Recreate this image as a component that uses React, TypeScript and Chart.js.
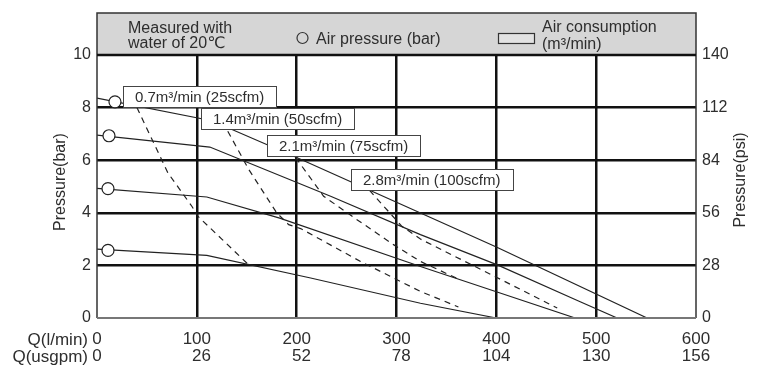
import React, { useEffect, useRef } from 'react';
import { Chart, registerables } from 'chart.js';

Chart.register(...registerables);

// ---- axis tick labels ----
const flowTicksLpm = [0, 100, 200, 300, 400, 500, 600];
const flowTicksUsgpm = [0, 26, 52, 78, 104, 130, 156];
const pressureTicksBar = [0, 2, 4, 6, 8, 10];
const pressureTicksPsi = [0, 28, 56, 84, 112, 140];

// ---- air pressure curves (solid), flow l/min vs pressure bar ----
const p8Flow = [0, 115, 200, 400, 551];
const p8Bar = [8.36, 7.5, 6.1, 2.7, 0];
const p7Flow = [0, 113, 234, 324, 401, 484, 521];
const p7Bar = [6.95, 6.5, 4.63, 3.17, 2.02, 0.62, 0];
const p5Flow = [0, 110, 183, 324, 400, 479];
const p5Bar = [4.93, 4.6, 3.8, 1.96, 1.0, 0];
const p3Flow = [0, 110, 214, 324, 400];
const p3Bar = [2.62, 2.38, 1.52, 0.56, 0];

// air pressure markers (circles)
const markerFlow = [18, 12, 11, 11];
const markerBar = [8.22, 6.93, 4.92, 2.57];

// ---- air consumption curves (dashed) ----
const a07Flow = [40, 71, 95, 101, 125, 152];
const a07Bar = [8.0, 5.52, 4.25, 3.87, 3.0, 2.02];
const a14Flow = [131, 152, 180, 192, 204, 264, 324, 362];
const a14Bar = [7.1, 5.65, 4.0, 3.55, 3.4, 2.15, 1.01, 0.42];
const a21Flow = [199, 227, 260, 297, 324, 361];
const a21Bar = [6.1, 4.63, 3.75, 2.79, 2.15, 1.5];
const a28Flow = [273, 305, 324, 400, 461];
const a28Bar = [4.85, 3.5, 3.0, 1.55, 0.38];

const airLabels = ['0.7m³/min (25scfm)', '1.4m³/min (50scfm)', '2.1m³/min (75scfm)', '2.8m³/min (100scfm)'];
// label anchors (top-left corner of each box, in data units)
const airLabelAnchors = [
  { flow: 26, bar: 8.82 },
  { flow: 104, bar: 8.0 },
  { flow: 170, bar: 6.96 },
  { flow: 254, bar: 5.65 },
];

const FONT = '"Liberation Sans", "DejaVu Sans", Arial, sans-serif';
const TEXT = '#2e2e2e';
const LINE = '#222';

function pts(xs: number[], ys: number[]) {
  return xs.map((x, i) => ({ x, y: ys[i] }));
}

const overlay = {
  id: 'overlay',
  afterDatasetsDraw(chart: any) {
    const { ctx, scales } = chart;
    const x = scales.x;
    const y = scales.y;
    ctx.save();
    ctx.font = `15px ${FONT}`;
    airLabels.forEach((t, i) => {
      const left = Math.round(x.getPixelForValue(airLabelAnchors[i].flow));
      const top = Math.round(y.getPixelForValue(airLabelAnchors[i].bar));
      const w = Math.round(ctx.measureText(t).width + 24);
      const h = 21;
      ctx.fillStyle = '#fff';
      ctx.fillRect(left, top, w, h);
      ctx.strokeStyle = '#444';
      ctx.lineWidth = 1;
      ctx.strokeRect(left + 0.5, top + 0.5, w, h);
      ctx.fillStyle = TEXT;
      ctx.textBaseline = 'middle';
      ctx.textAlign = 'left';
      ctx.fillText(t, left + 12, top + h / 2 + 1);
    });
    ctx.restore();
  },
  afterDraw(chart: any) {
    const { ctx, chartArea: a } = chart;
    ctx.save();
    // frame
    ctx.strokeStyle = '#333';
    ctx.lineWidth = 1.5;
    ctx.beginPath();
    ctx.moveTo(a.left, a.top);
    ctx.lineTo(a.left, a.bottom);
    ctx.moveTo(a.right, a.top);
    ctx.lineTo(a.right, a.bottom);
    ctx.stroke();
    ctx.strokeStyle = '#777';
    ctx.lineWidth = 2;
    ctx.beginPath();
    ctx.moveTo(a.left, a.bottom);
    ctx.lineTo(a.right, a.bottom);
    ctx.stroke();

    // header band
    const hTop = 13;
    ctx.fillStyle = '#d6d6d6';
    ctx.fillRect(a.left, hTop, a.right - a.left, a.top - hTop);
    ctx.strokeStyle = '#333';
    ctx.lineWidth = 1.5;
    ctx.beginPath();
    ctx.moveTo(a.left, a.top);
    ctx.lineTo(a.left, hTop);
    ctx.lineTo(a.right, hTop);
    ctx.lineTo(a.right, a.top);
    ctx.stroke();
    ctx.strokeStyle = '#111';
    ctx.lineWidth = 2.5;
    ctx.beginPath();
    ctx.moveTo(a.left, a.top);
    ctx.lineTo(a.right, a.top);
    ctx.stroke();

    ctx.fillStyle = TEXT;
    ctx.font = `16px ${FONT}`;
    ctx.textAlign = 'left';
    ctx.textBaseline = 'alphabetic';
    ctx.fillText('Measured with', 128, 33);
    ctx.fillText('water of 20℃', 128, 47.5);
    ctx.fillText('Air pressure (bar)', 316, 43.5);
    ctx.fillText('Air consumption', 542, 32);
    ctx.fillText('(m³/min)', 542, 49);
    ctx.strokeStyle = '#333';
    ctx.lineWidth = 1.2;
    ctx.beginPath();
    ctx.arc(302.5, 38, 5.5, 0, Math.PI * 2);
    ctx.stroke();
    ctx.fillStyle = '#e2e2e2';
    ctx.fillRect(498.5, 33.5, 36, 10);
    ctx.strokeRect(498.5, 33.5, 36, 10);

    // axis titles
    ctx.fillStyle = TEXT;
    ctx.font = `16px ${FONT}`;
    ctx.textAlign = 'center';
    ctx.textBaseline = 'middle';
    ctx.save();
    ctx.translate(61, 182);
    ctx.rotate(-Math.PI / 2);
    ctx.fillText('Pressure(bar)', 0, 0);
    ctx.restore();
    ctx.save();
    ctx.translate(741, 180);
    ctx.rotate(-Math.PI / 2);
    ctx.fillText('Pressure(psi)', 0, 0);
    ctx.restore();

    // x unit prefixes
    ctx.font = `17px ${FONT}`;
    ctx.textAlign = 'right';
    ctx.fillText('Q(l/min)', 88, 340);
    ctx.fillText('Q(usgpm)', 88, 357);
    ctx.restore();
  },
};

export default function App() {
  const ref = useRef<HTMLCanvasElement>(null);
  useEffect(() => {
    if (!ref.current) return;
    const solid = (xs: number[], ys: number[]) => ({
      data: pts(xs, ys),
      borderColor: LINE,
      borderWidth: 1.2,
      pointRadius: 0,
      tension: 0,
      fill: false,
    });
    const dashed = (xs: number[], ys: number[]) => ({
      data: pts(xs, ys),
      borderColor: LINE,
      borderWidth: 1.2,
      borderDash: [6, 5],
      pointRadius: 0,
      tension: 0,
      fill: false,
    });
    const chart = new Chart(ref.current, {
      type: 'line',
      data: {
        datasets: [
          {
            data: pts(markerFlow, markerBar),
            showLine: false,
            pointRadius: 6,
            pointBackgroundColor: '#fff',
            pointBorderColor: LINE,
            pointBorderWidth: 1.2,
            borderColor: LINE,
          },
          solid(p8Flow, p8Bar),
          solid(p7Flow, p7Bar),
          solid(p5Flow, p5Bar),
          solid(p3Flow, p3Bar),
          dashed(a07Flow, a07Bar),
          dashed(a14Flow, a14Bar),
          dashed(a21Flow, a21Bar),
          dashed(a28Flow, a28Bar),
        ] as any,
      },
      options: {
        responsive: false,
        animation: false,
        events: [],
        layout: { padding: { top: 55, left: 0, right: 0, bottom: 0 } },
        plugins: { legend: { display: false }, tooltip: { enabled: false }, title: { display: false } },
        scales: {
          x: {
            type: 'linear',
            min: 0,
            max: 600,
            afterBuildTicks: (s: any) => {
              s.ticks = flowTicksLpm.map((v) => ({ value: v }));
            },
            afterFit: (s: any) => {
              s.height = 62;
            },
            grid: {
              drawTicks: false,
              lineWidth: 2.5,
              color: (c: any) => (c.tick && (c.tick.value === 0 || c.tick.value === 600) ? 'rgba(0,0,0,0)' : '#111'),
            },
            border: { display: false },
            ticks: {
              padding: 13,
              color: TEXT,
              maxRotation: 0,
              autoSkip: false,
              font: { family: FONT, size: 17, lineHeight: 1.0 },
              callback: (v: any, i: number) => {
                const a = String(flowTicksLpm[i]);
                let b = String(flowTicksUsgpm[i]);
                while (b.length < a.length) b = '\u2007' + b;
                return [a, b];
              },
            },
          },
          y: {
            type: 'linear',
            position: 'left',
            min: 0,
            max: 10,
            afterBuildTicks: (s: any) => {
              s.ticks = pressureTicksBar.map((v) => ({ value: v }));
            },
            afterFit: (s: any) => {
              s.width = 97;
            },
            grid: {
              drawTicks: false,
              lineWidth: 2.5,
              color: (c: any) => (c.tick && (c.tick.value === 0 || c.tick.value === 10) ? 'rgba(0,0,0,0)' : '#111'),
            },
            border: { display: false },
            ticks: {
              padding: 6,
              color: TEXT,
              font: { family: FONT, size: 16 },
              callback: (v: any) => String(v),
            },
          },
          y2: {
            type: 'linear',
            position: 'right',
            min: 0,
            max: 140,
            afterBuildTicks: (s: any) => {
              s.ticks = pressureTicksPsi.map((v) => ({ value: v }));
            },
            afterFit: (s: any) => {
              s.width = 70;
            },
            grid: { display: false, drawTicks: false },
            border: { display: false },
            ticks: {
              padding: 6,
              color: TEXT,
              font: { family: FONT, size: 16 },
              callback: (v: any) => String(v),
            },
          },
        },
      } as any,
      plugins: [overlay],
    });
    return () => chart.destroy();
  }, []);
  return (
    <div style={{ position: 'fixed', left: 0, top: 0, width: 766, height: 380, background: '#fff' }}>
      <canvas ref={ref} width={766} height={380} style={{ display: 'block' }} />
    </div>
  );
}
